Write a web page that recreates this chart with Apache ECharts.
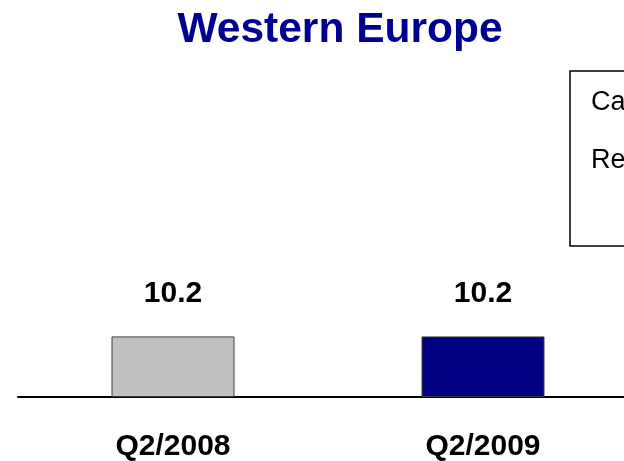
<!DOCTYPE html>
<html>
<head>
<meta charset="utf-8">
<script src="https://cdn.jsdelivr.net/npm/echarts@6/dist/echarts.min.js"></script>
<style>
  html, body { margin: 0; padding: 0; background: #fff; }
  #chart { width: 624px; height: 461px; }
</style>
</head>
<body>
<div id="chart"></div>
<script>
// Quarter categories and values
const categories = ['Q2/2008', 'Q2/2009'];
const seriesNames = ['Cars', 'Registrations'];
const values2008 = [10.2, '-'];
const values2009 = ['-', 10.2];
const barColors = ['#C0C0C0', '#000080'];

const font = 'Liberation Sans, Arial, sans-serif';

const chart = echarts.init(document.getElementById('chart'), null, { renderer: 'canvas' });

const labelStyle = {
  show: true,
  position: 'top',
  distance: 28,
  color: '#000',
  fontFamily: font,
  fontWeight: 'bold',
  fontSize: 30
};

chart.setOption({
  animation: false,
  backgroundColor: '#fff',
  title: {
    text: 'Western Europe',
    left: 335,
    top: 4,
    textAlign: 'center',
    textStyle: { color: '#000090', fontFamily: font, fontWeight: 'bold', fontSize: 42.5 }
  },
  legend: {
    orient: 'vertical',
    left: 570,
    top: 71,
    padding: [18, 10, 72, 14],
    itemGap: 31,
    itemWidth: 1,
    itemHeight: 14,
    itemStyle: { opacity: 0 },
    borderColor: '#000',
    borderWidth: 1.5,
    textStyle: { color: '#000', fontFamily: font, fontSize: 27 },
    data: seriesNames
  },
  grid: { left: 18, top: 100, width: 620, bottom: 64, containLabel: false, outerBoundsMode: 'none' },
  xAxis: {
    type: 'category',
    data: categories,
    axisLine: { show: true, lineStyle: { color: '#000', width: 2 } },
    axisTick: { show: false },
    axisLabel: { margin: 35, color: '#000', fontFamily: font, fontWeight: 'bold', fontSize: 30 }
  },
  yAxis: {
    type: 'value',
    min: 0,
    max: 50,
    show: false,
    splitLine: { show: false }
  },
  series: [
    {
      name: seriesNames[0],
      type: 'bar',
      data: values2008,
      barWidth: 123,
      barGap: '-100%',
      itemStyle: { color: barColors[0], borderColor: '#404040', borderWidth: 1 },
      label: labelStyle
    },
    {
      name: seriesNames[1],
      type: 'bar',
      data: values2009,
      barWidth: 123,
      barGap: '-100%',
      itemStyle: { color: barColors[1], borderColor: '#404040', borderWidth: 1 },
      label: labelStyle
    }
  ]
});
</script>
</body>
</html>
